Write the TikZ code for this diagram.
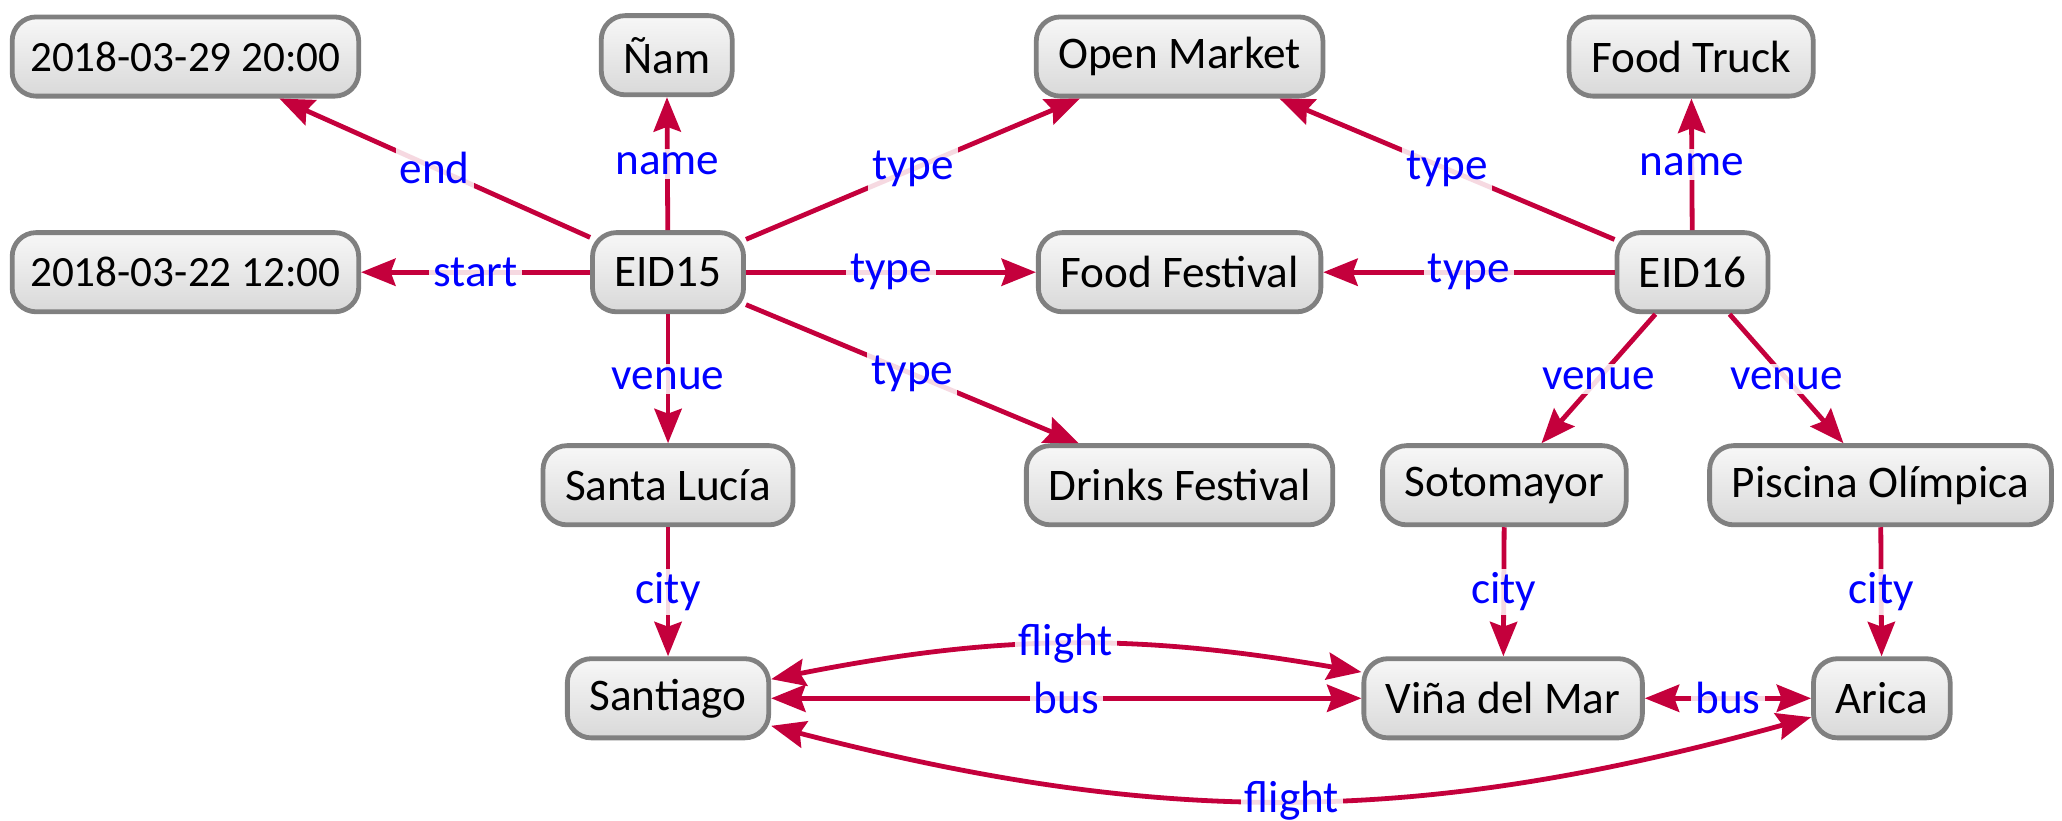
\documentclass[tikz,border=0pt]{standalone}
\usepackage{fontspec}
\setmainfont{Carlito}
\usetikzlibrary{arrows.meta}
\definecolor{edgered}{HTML}{C4003C}
\definecolor{boxgray}{HTML}{808080}
\begin{document}
\begin{tikzpicture}[x=0.32876pt,y=-0.32876pt,
  >={Stealth[length=8.6pt,width=6.8pt,inset=1.2pt]},
  ent/.style={draw=boxgray, line width=1.2pt, rounded corners=6pt,
    top color=white!97!black, bottom color=white!85!black,
    minimum height=19.8pt, inner xsep=5.5pt, inner ysep=2pt,
    font=\fontsize{11.3}{13}\selectfont},
  datebox/.style={ent, inner xsep=4.5pt, font=\fontsize{10.8}{13}\selectfont},
  rel/.style={draw=edgered, line width=1.2pt, ->},
  birel/.style={draw=edgered, line width=1.2pt, <->},
  lab/.style={fill=white, fill opacity=0.85, text opacity=1, text=blue,
    inner sep=1pt, font=\fontsize{11.3}{13}\selectfont}
]
\useasboundingbox (0,0) rectangle (1568,624);
\node[datebox] (t29) at (141,43) {2018-03-29 20:00};
\node[ent] (nam) at (507,42) {Ñam};
\node[ent] (om) at (897,43) {Open Market};
\node[ent] (ft) at (1286,43) {Food Truck};
\node[datebox] (t22) at (141,207) {2018-03-22 12:00};
\node[ent] (e15) at (508,207) {EID15};
\node[ent] (ff) at (897,207) {Food Festival};
\node[ent] (e16) at (1287,207) {EID16};
\node[ent] (sl) at (508,369) {Santa Lucía};
\node[ent] (df) at (897,369) {Drinks Festival};
\node[ent] (soto) at (1144,369) {Sotomayor};
\node[ent] (po) at (1430,369) {Piscina Olímpica};
\node[ent] (stgo) at (508,531) {Santiago};
\node[ent] (vina) at (1143,531) {Viña del Mar};
\node[ent] (arica) at (1431,531) {Arica};

\draw[rel] (e15) -- node[lab] {end} (t29);
\draw[rel] (e15) -- node[lab] {name} (nam);
\draw[rel] (e15) -- node[lab] {type} (om);
\draw[rel] (e15) -- node[lab] {start} (t22);
\draw[rel] (e15) -- node[lab] {type} (ff);
\draw[rel] (e15) -- node[lab] {type} (df);
\draw[rel] (e15) -- node[lab] {venue} (sl);
\draw[rel] (sl) -- node[lab] {city} (stgo);
\draw[rel] (e16) -- node[lab] {name} (ft);
\draw[rel] (e16) -- node[lab] {type} (om);
\draw[rel] (e16) -- node[lab] {type} (ff);
\draw[rel] (e16) -- node[lab] {venue} (soto);
\draw[rel] (e16) -- node[lab] {venue} (po);
\draw[rel] (soto) -- node[lab] {city} (vina);
\draw[rel] (po) -- node[lab] {city} (arica);
\draw[birel] (stgo) to[bend left=10.5] node[lab] {flight} (vina);
\draw[birel] (stgo) -- node[lab] {bus} (vina);
\draw[birel] (vina) -- node[lab] {bus} (arica);
\draw[birel] (stgo) to[bend right=15] node[lab] {flight} (arica);
\end{tikzpicture}
\end{document}
